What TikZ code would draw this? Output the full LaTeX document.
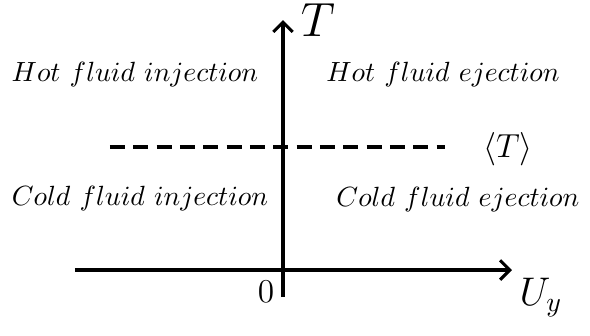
\documentclass[tikz,border=0pt]{standalone}
\usepackage{amsmath,amssymb}
\usepackage{tikz}
\usetikzlibrary{arrows.meta,positioning}

\begin{document}
\begin{tikzpicture}[x=0.36pt,y=-0.36pt,
    axis/.style={line width=1.1pt,-{Straight Barb[length=3.5pt,width=7pt,line width=1.1pt]}},
    region/.style={inner sep=0pt}]
    \useasboundingbox (0,0) rectangle (590,336);

    % Axes
    \coordinate (xl) at (75,270);
    \coordinate (xr) at (512,270);
    \coordinate (yb) at (283,297);
    \coordinate (yt) at (283,20);
    \draw[axis] (xl) -- (xr);
    \draw[axis] (yb) -- (yt);

    % Mean temperature (dashed)
    \coordinate (dl) at (110,147);
    \coordinate (dr) at (445,147);
    \draw[line width=1.1pt, dash pattern=on 5.4pt off 3pt] (dl) -- (dr);

    % Axis labels
    \node (tlab) at (318,20) {\LARGE $T$};
    \node (ulab) at (541,298) {\Large $U_y$};
    \node (zero) at (266,292) {\large $0$};
    \node (mean) at (508,149) {\large $\langle T\rangle$};

    % Regions
    \node[region] (hinj) at (135,75) {$Hot\ fluid\ injection$};
    \node[region] (hej) at (443,75) {$Hot\ fluid\ ejection$};
    \node[region] (cinj) at (140,199) {$Cold\ fluid\ injection$};
    \node[region] (cej) at (458,200) {$Cold\ fluid\ ejection$};
\end{tikzpicture}
\end{document}
